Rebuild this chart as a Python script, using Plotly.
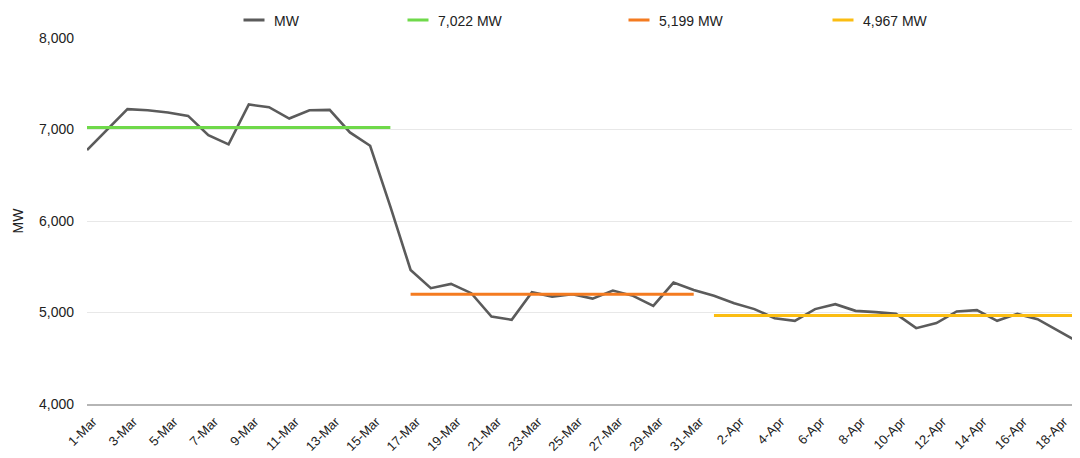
import plotly.graph_objects as go

# Categories: daily dates 1-Mar .. 19-Apr
dates = [f"{d}-Mar" for d in range(1, 32)] + [f"{d}-Apr" for d in range(1, 20)]

# Daily MW values
mw = [6775, 7000, 7222, 7211, 7186, 7149, 6938, 6837, 7273, 7244,
      7120, 7211, 7214, 6968, 6822, 6157, 5465, 5266, 5313, 5211,
      4956, 4920, 5222, 5174, 5200, 5152, 5240, 5182, 5073, 5327,
      5247, 5182, 5102, 5037, 4938, 4909, 5037, 5091, 5018, 5004,
      4985, 4829, 4884, 5011, 5026, 4909, 4985, 4927, 4803, 4680]

# Period averages
avg_values = [7022, 5199, 4967]
avg_labels = ["7,022 MW", "5,199 MW", "4,967 MW"]
avg_start = ["1-Mar", "17-Mar", "1-Apr"]
avg_end = ["16-Mar", "31-Mar", "19-Apr"]

tick_labels = dates[::2]
y_ticks = [4000, 5000, 6000, 7000, 8000]

main_color = "#5b5b5b"
avg_colors = ["#6fd94a", "#f47b20", "#fbbd12"]
FONT = "Liberation Sans, Arial, Helvetica, sans-serif"

fig = go.Figure()

fig.add_trace(go.Scatter(x=dates, y=mw, mode="lines",
                         line=dict(color=main_color, width=2.6),
                         showlegend=False, name="MW"))
for v, s, e, c, lab in zip(avg_values, avg_start, avg_end, avg_colors, avg_labels):
    fig.add_trace(go.Scatter(x=[s, e], y=[v, v], mode="lines",
                             line=dict(color=c, width=3),
                             showlegend=False, name=lab))

# Legend-only entries (short dash symbols), each in its own legend for exact spacing
legend_names = ["legend", "legend2", "legend3", "legend4"]
legend_texts = ["MW"] + avg_labels
legend_colors = [main_color] + avg_colors
for ln, txt, col in zip(legend_names, legend_texts, legend_colors):
    fig.add_trace(go.Scatter(x=[None], y=[None], mode="markers", name=txt,
                             marker=dict(symbol="line-ew", size=15,
                                         line=dict(color=col, width=3)),
                             legend=ln, showlegend=True))

# The page body adds an 8px offset, so the figure is 1072x450
W, H = 1072, 450
L, R, T, B = 79, 2, 30, 54

legend_left_px = [226, 390, 611, 815]
leg_y = 1 - 12.5 / H
common_leg = dict(orientation="h", yanchor="middle", xanchor="left",
                  xref="container", yref="container",
                  font=dict(family=FONT, size=14, color="#222222"),
                  bgcolor="rgba(0,0,0,0)", itemwidth=30)
layout_legs = {}
for ln, lx in zip(legend_names, legend_left_px):
    layout_legs[ln] = dict(common_leg, x=lx / W, y=leg_y)

fig.update_layout(
    width=W, height=H,
    margin=dict(l=L, r=R, t=T, b=B, autoexpand=False),
    plot_bgcolor="white", paper_bgcolor="white",
    font=dict(family=FONT, size=14, color="#222222"),
    xaxis=dict(type="category", categoryorder="array", categoryarray=dates,
               range=[0, len(dates) - 1], automargin=False,
               tickmode="array", tickvals=tick_labels, ticktext=tick_labels,
               tickangle=-45, tickfont=dict(size=13, color="#222222"),
               ticklabelshift=6, ticklabelstandoff=3,
               showgrid=False, showline=True, linecolor="#b5b5b5", linewidth=2,
               ticks="", zeroline=False),
    yaxis=dict(range=[4000, 8000], tickvals=y_ticks, automargin=False,
               tickformat=",d", tickfont=dict(size=14, color="#222222"),
               showgrid=True, gridcolor="#e8e8e8", gridwidth=1,
               zeroline=False, showline=False, ticks="",
               ticklabelstandoff=12,
               title=dict(text="MW", font=dict(size=14, color="#222222"), standoff=12)),
    **layout_legs,
)

fig.write_html("out.html")
